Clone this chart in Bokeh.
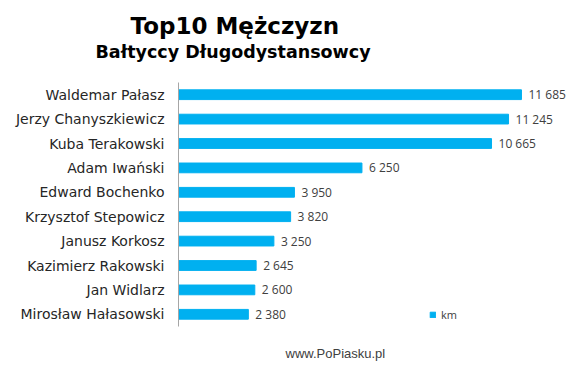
from bokeh.plotting import figure
from bokeh.models import ColumnDataSource, FactorRange, Range1d, Title, LabelSet, Legend, LegendItem
from bokeh.core.properties import value
from bokeh.embed import file_html
from bokeh.resources import INLINE

names = ["Waldemar Pałasz", "Jerzy Chanyszkiewicz", "Kuba Terakowski", "Adam Iwański",
         "Edward Bochenko", "Krzysztof Stepowicz", "Janusz Korkosz", "Kazimierz Rakowski",
         "Jan Widlarz", "Mirosław Hałasowski"]
km = [11685, 11245, 10665, 6250, 3950, 3820, 3250, 2645, 2600, 2380]
series_name = "km"
title_text = "Top10 Mężczyzn"
subtitle_text = "Bałtyccy Długodystansowcy"
footer_text = "www.PoPiasku.pl"

labels = [f"{v:,}".replace(",", " ") for v in km]
src = ColumnDataSource(dict(name=names, km=km, label=labels))

BAR = "#00B0F0"

p = figure(width=572, height=362, output_backend="svg", toolbar_location=None,
           y_range=FactorRange(factors=names[::-1], range_padding=0),
           x_range=Range1d(0, 13424), title=None,
           min_border_left=178, min_border_right=0, min_border_top=82, min_border_bottom=36)

r = p.hbar(y="name", right="km", left=0, height=0.4, source=src, color=BAR)

p.add_layout(LabelSet(x="km", y="name", text="label", source=src, x_offset=7,
                      text_baseline="middle", text_align="left",
                      text_font=value("Open Sans"), text_font_size="12px", text_color="#404040"))

p.xaxis.visible = False
p.xgrid.visible = False
p.ygrid.visible = False
p.outline_line_color = None
ax = p.yaxis[0]
ax.axis_line_color = "#A6A6A6"
ax.major_tick_line_color = None
ax.minor_tick_line_color = None
ax.major_label_standoff = 8
ax.major_label_text_font = "DejaVu Sans"
ax.major_label_text_font_size = "14px"
ax.major_label_text_color = "#262626"

leg = Legend(items=[LegendItem(label=series_name, renderers=[r])],
             location=(251, 4), glyph_width=7, glyph_height=7, label_text_font_size="11px",
             label_text_font="Open Sans", label_text_color="#404040", label_standoff=5,
             padding=0, margin=0, border_line_color=None, background_fill_alpha=0,
             label_height=12)
p.add_layout(leg)

p.add_layout(Title(text=subtitle_text, align="left", offset=-83, standoff=42, text_font="DejaVu Sans",
                   text_font_style="bold", text_font_size="17.5px", text_color="#000000"), "above")
p.add_layout(Title(text=title_text, align="left", offset=-48, standoff=-40, text_font="DejaVu Sans",
                   text_font_style="bold", text_font_size="23px", text_color="#000000"), "above")
p.add_layout(Title(text="\n" + footer_text, align="left", offset=107, standoff=4, text_font="Liberation Sans",
                   text_font_style="normal", text_font_size="13px", text_color="#404040",
                   text_line_height=1.0), "below")

open("out.html", "w").write(file_html(p, INLINE))
